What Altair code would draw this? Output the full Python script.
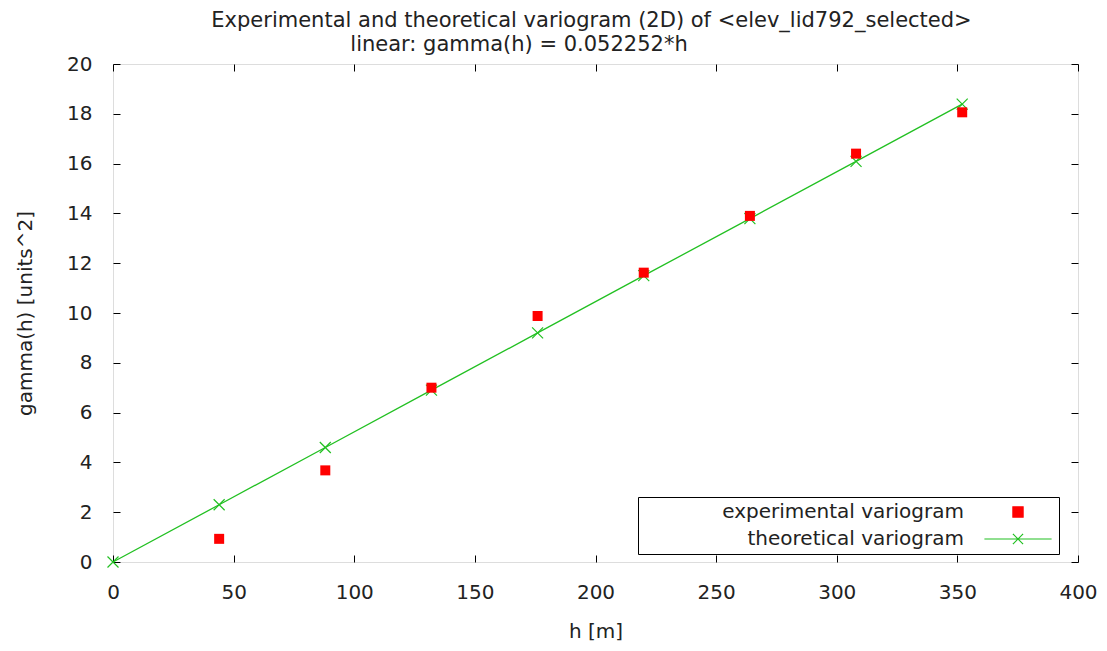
import altair as alt
import pandas as pd

# ---- data ----
h_exp = [44, 88, 132, 176, 220, 264, 308, 352]
gamma_exp = [0.93, 3.68, 7.0, 9.88, 11.62, 13.9, 16.4, 18.06]

h_theo = [0, 44, 88, 132, 176, 220, 264, 308, 352]
gamma_theo = [0.0, 2.30, 4.60, 6.90, 9.20, 11.50, 13.79, 16.09, 18.39]

x_ticks = [0, 50, 100, 150, 200, 250, 300, 350, 400]
y_ticks = [0, 2, 4, 6, 8, 10, 12, 14, 16, 18, 20]

series_names = ["experimental variogram", "theoretical variogram"]
title_line1 = "Experimental and theoretical variogram (2D) of <elev_lid792_selected>"
title_line2 = "linear: gamma(h) = 0.052252*h"
x_title = "h [m]"
y_title = "gamma(h) [units^2]"

FONT = "DejaVu Sans"
TXT = "#222222"
RED = "#ff0000"
GREEN = "#22c022"
W, H = 965, 498

exp_df = pd.DataFrame({"h": h_exp, "gamma": gamma_exp, "series": series_names[0]})
theo_df = pd.DataFrame({"h": h_theo, "gamma": gamma_theo, "series": series_names[1]})
subtitle_df = pd.DataFrame({"label": [title_line2]})

x_scale = alt.Scale(domain=[0, 400], nice=False, zero=False)
y_scale = alt.Scale(domain=[0, 20], nice=False, zero=False)

x_axis = alt.Axis(values=x_ticks, title=x_title, ticks=False, domain=False,
                  grid=True, gridColor="#000000", gridWidth=1, gridDash=[7, H - 14],
                  labelPadding=20, titlePadding=19, labelFont=FONT, titleFont=FONT,
                  labelFontSize=20, titleFontSize=20, titleFontWeight="normal",
                  labelColor=TXT, titleColor=TXT, format="d", labelFlush=False,
                  labelOverlap=False)
y_axis = alt.Axis(values=y_ticks, title=y_title, ticks=False, domain=False,
                  grid=True, gridColor="#000000", gridWidth=1, gridDash=[7, W - 14],
                  labelPadding=21, titlePadding=31, labelFont=FONT, titleFont=FONT,
                  labelFontSize=20, titleFontSize=20, titleFontWeight="normal",
                  labelColor=TXT, titleColor=TXT, format="d", labelFlush=False,
                  labelOverlap=False)

X = alt.X("h:Q", scale=x_scale, axis=x_axis)
Y = alt.Y("gamma:Q", scale=y_scale, axis=y_axis)

line = alt.Chart(theo_df).mark_line(color=GREEN, strokeWidth=1.3).encode(x=X, y=Y)

crosses = alt.Chart(theo_df).mark_point(
    shape="M-1,-1L1,1M-1,1L1,-1", size=121, color=GREEN, filled=False,
    strokeWidth=1.2, opacity=1
).encode(x=X, y=Y)

squares = alt.Chart(exp_df).mark_square(size=100, color=RED, opacity=1).encode(x=X, y=Y)

legend_spec = alt.Legend(
    title=None, orient="none", legendX=525, legendY=433,
    direction="vertical", labelAlign="right", labelOffset={"expr": "-64"}, symbolOffset=365,
    labelFont=FONT, labelFontSize=20, labelColor=TXT, labelLimit=400,
    symbolSize=144, symbolStrokeWidth=1.2,
    symbolFillColor="transparent", symbolStrokeColor="transparent",
    strokeColor="#000000", padding=5, rowPadding=7, fillColor="#ffffff",
)

legend_df = pd.concat([exp_df, theo_df], ignore_index=True)
legend_layer = alt.Chart(legend_df).transform_filter("false").mark_point(
    filled=False, opacity=1
).encode(
    x=X, y=Y,
    color=alt.Color("series:N", scale=alt.Scale(domain=series_names, range=[RED, GREEN]),
                    legend=legend_spec),
    fill=alt.Fill("series:N", scale=alt.Scale(domain=series_names, range=[RED, "transparent"]),
                  legend=legend_spec),
    shape=alt.Shape("series:N", scale=alt.Scale(
        domain=series_names,
        range=["M-0.85,-0.85H0.85V0.85H-0.85Z",
               "M-5.6,0L5.6,0M-0.85,-0.85L0.85,0.85M-0.85,0.85L0.85,-0.85"]),
        legend=legend_spec),
)

# second title line (gnuplot places it left of the first line's centre)
subtitle = alt.Chart(subtitle_df).mark_text(
    font=FONT, fontSize=21, color=TXT, align="center", baseline="middle"
).encode(text="label:N", x=alt.value(406), y=alt.value(-19))

chart = alt.layer(line, crosses, squares, legend_layer, subtitle).properties(
    width=W, height=H,
    title=alt.Title(
        text=title_line1, font=FONT, fontSize=21, fontWeight="normal", color=TXT,
        anchor="middle", frame="group", dx=-4, offset=3,
    ),
    autosize=alt.AutoSizeParams(type="none"),
    padding={"left": 113, "top": 64, "right": 29, "bottom": 89},
).configure_view(
    stroke="#000000", strokeWidth=1
).configure(background="#ffffff")

chart.save("out.html", embed_options={"renderer": "svg", "actions": False})
